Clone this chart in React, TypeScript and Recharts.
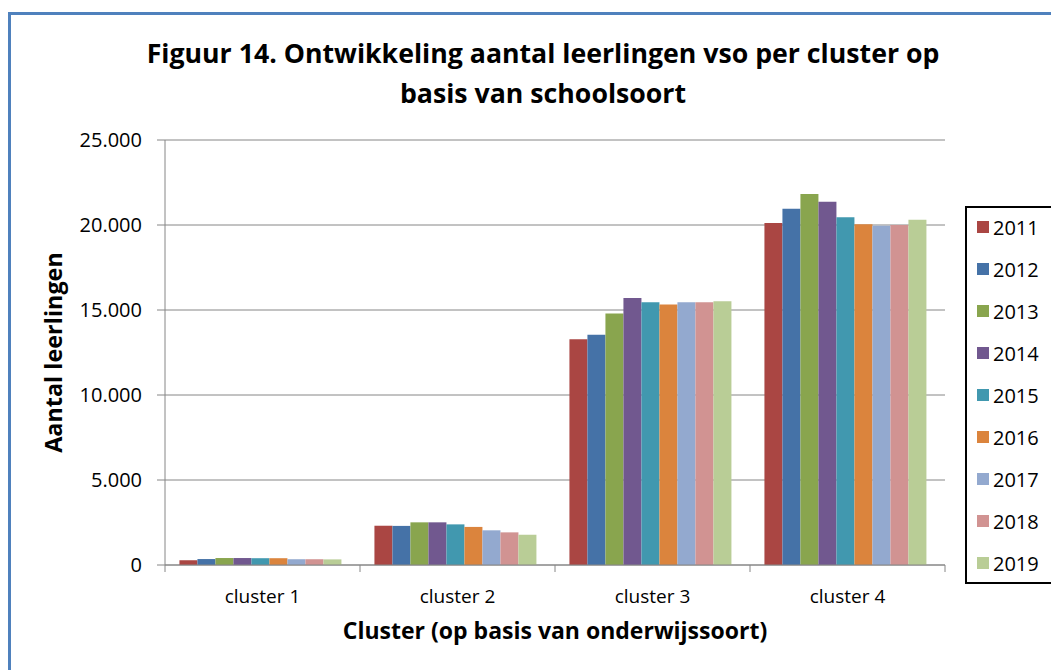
import React from 'react';
import { BarChart, Bar, XAxis, YAxis, CartesianGrid, Legend, Label } from 'recharts';

const categories = ['cluster 1', 'cluster 2', 'cluster 3', 'cluster 4'];
const years = ['2011', '2012', '2013', '2014', '2015', '2016', '2017', '2018', '2019'];

const v2011 = [280, 2310, 13280, 20120];
const v2012 = [350, 2300, 13550, 20960];
const v2013 = [410, 2510, 14800, 21820];
const v2014 = [410, 2510, 15700, 21370];
const v2015 = [400, 2390, 15450, 20450];
const v2016 = [400, 2240, 15330, 20040];
const v2017 = [340, 2040, 15450, 19960];
const v2018 = [340, 1920, 15450, 20000];
const v2019 = [330, 1780, 15510, 20310];

const seriesValues = [v2011, v2012, v2013, v2014, v2015, v2016, v2017, v2018, v2019];
const yTicks = [0, 5000, 10000, 15000, 20000, 25000];

const COLORS = ['#AA4643', '#4572A7', '#89A54E', '#71588F', '#4198AF', '#DB843D', '#93A9CF', '#D19392', '#B9CD96'];

const data = categories.map((name, i) => {
  const row: Record<string, string | number> = { name };
  years.forEach((y, s) => { row[y] = seriesValues[s][i]; });
  return row;
});

const W = 1051;
const H = 670;
const PLOT_LEFT = 165;
const PLOT_RIGHT = 945;
const PLOT_TOP = 140;
const PLOT_BOTTOM = 565;
const BAND = (PLOT_RIGHT - PLOT_LEFT) / categories.length;
const FONT = '"Open Sans", sans-serif';

const fmt = (v: number) => String(v).replace(/\B(?=(\d{3})+(?!\d))/g, '.');

const ClusterTick = (props: any) => {
  const { x, y, payload, index } = props;
  const axisY = PLOT_BOTTOM;
  return (
    <g>
      <line x1={x - BAND / 2} x2={x - BAND / 2} y1={axisY} y2={axisY + 7} stroke="#868686" />
      {index === categories.length - 1 && (
        <line x1={x + BAND / 2} x2={x + BAND / 2} y1={axisY} y2={axisY + 7} stroke="#868686" />
      )}
      <text x={x} y={y} dy="0.71em" textAnchor="middle" fontSize={19} fill="#000" fontFamily={FONT}>
        {payload.value}
      </text>
    </g>
  );
};

const LegendBox = (props: any) => {
  const { payload } = props;
  return (
    <div style={{ border: '2px solid #000', height: 374, width: 120, background: '#fff', fontFamily: FONT }}>
      <div style={{ marginTop: -2 }}>
        {payload.map((p: any) => (
          <div key={p.value} style={{ height: 42, display: 'flex', alignItems: 'center', paddingLeft: 10 }}>
            <span style={{ width: 12, height: 12, background: p.color, display: 'inline-block', marginRight: 4 }} />
            <span style={{ fontSize: 20, color: '#000' }}>{p.value}</span>
          </div>
        ))}
      </div>
    </div>
  );
};

export default function App() {
  return (
    <div style={{ position: 'fixed', left: 0, top: 0, width: W, height: H, overflow: 'hidden', background: '#fff' }}>
      <div style={{ position: 'absolute', left: 8, top: 12, width: W + 20, height: H + 20, borderLeft: '3px solid #4F81BD', borderTop: '3px solid #4F81BD' }} />
      <div style={{ position: 'absolute', left: 0, top: 33, width: 1086, textAlign: 'center', fontFamily: FONT, fontWeight: 700, fontSize: 26.7, lineHeight: '40px', color: '#000' }}>
        Figuur 14. Ontwikkeling aantal leerlingen vso per cluster op<br />basis van schoolsoort
      </div>
      <div style={{ position: 'absolute', left: 0, top: 0 }}>
        <BarChart
          width={W}
          height={H}
          data={data}
          margin={{ top: PLOT_TOP, right: W - PLOT_RIGHT, bottom: H - PLOT_BOTTOM - 40, left: PLOT_LEFT - 80 }}
          barCategoryGap="7.4%"
          barGap={0}
          style={{ fontFamily: FONT }}
        >
          <CartesianGrid vertical={false} stroke="#868686" />
          <XAxis
            dataKey="name"
            height={40}
            tickLine={false}
            tickSize={7}
            tickMargin={18}
            stroke="#868686"
            tick={<ClusterTick />}
            interval={0}
          >
            <Label value="Cluster (op basis van onderwijssoort)" position="bottom" offset={18} fill="#000" fontSize={23} fontWeight={700} />
          </XAxis>
          <YAxis
            width={80}
            domain={[0, 25000]}
            ticks={yTicks}
            tickFormatter={fmt}
            tickSize={8}
            tickMargin={15}
            stroke="#868686"
            tick={{ fill: '#000', fontSize: 20 }}
            interval={0}
          >
            <Label value="Aantal leerlingen" angle={-90} position="insideLeft" offset={-31} fill="#000" fontSize={23.4} fontWeight={700} style={{ textAnchor: 'middle' }} />
          </YAxis>
          <Legend
            layout="vertical"
            align="center"
            verticalAlign="middle"
            content={<LegendBox />}
            wrapperStyle={{ left: 965, top: 206, width: 120, height: 378 }}
          />
          {years.map((y, i) => (
            <Bar key={y} dataKey={y} name={y} fill={COLORS[i]} isAnimationActive={false} />
          ))}
        </BarChart>
      </div>
    </div>
  );
}
